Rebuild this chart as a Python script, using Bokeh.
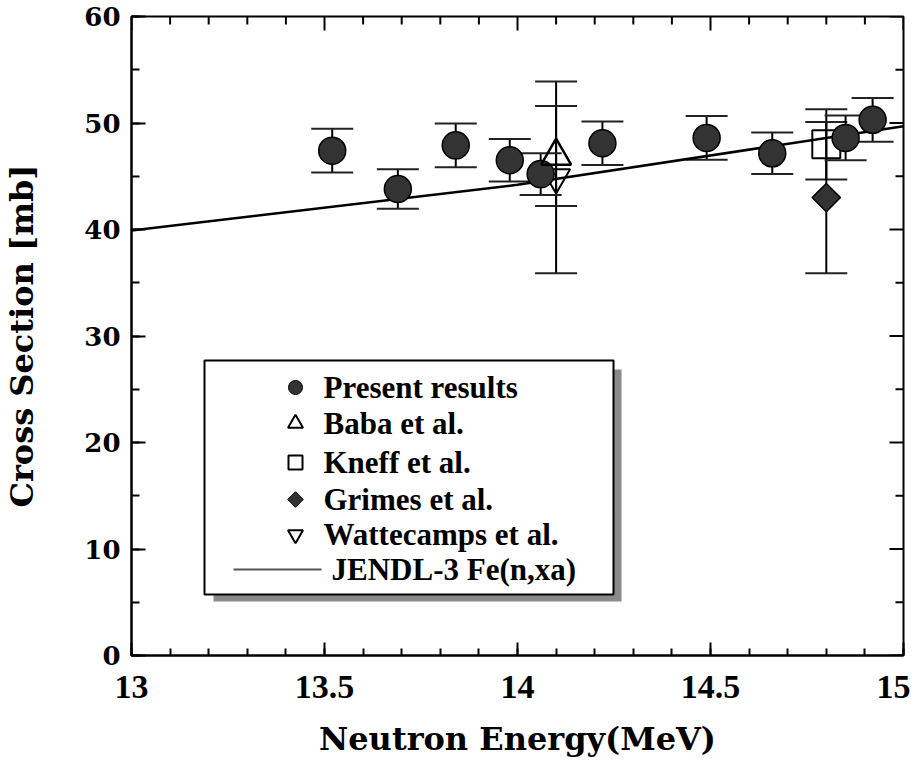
import numpy as np
from bokeh.plotting import figure
from bokeh.models import (Whisker, ColumnDataSource, Range1d,
                          SingleIntervalTicker, TeeHead, NumeralTickFormatter)
from bokeh.core.properties import value
from bokeh.embed import file_html
from bokeh.resources import INLINE

# ---------------- data ----------------
present_e = [13.52, 13.69, 13.84, 13.98, 14.06, 14.22, 14.49, 14.66, 14.85, 14.92]
present_xs = [47.4, 43.8, 47.9, 46.5, 45.2, 48.1, 48.6, 47.15, 48.6, 50.3]
present_err = [2.05, 1.85, 2.05, 2.0, 1.95, 2.05, 2.05, 1.95, 2.1, 2.05]

baba_e = [14.10]
baba_xs = [46.9]
baba_err = [4.7]

kneff_e = [14.80]
kneff_xs = [48.0]
kneff_err = [3.3]

grimes_e = [14.80]
grimes_xs = [43.0]
grimes_err = [7.1]

watt_e = [14.10]
watt_xs = [44.9]
watt_err = [9.0]

jendl_e = [13.0, 14.0, 15.0]
jendl_xs = [39.9, 44.2, 49.7]

x_major = [13.0, 13.5, 14.0, 14.5, 15.0]
y_major = [0, 10, 20, 30, 40, 50, 60]

legend_labels = ["Present results", "Baba et al.", "Kneff et al.",
                 "Grimes et al.", "Wattecamps et al.", "JENDL-3 Fe(n,xa)"]

# ---------------- layout constants (page pixels) ----------------
X0, X1 = 13.0, 15.0
Y0, Y1 = 0.0, 60.0
FL, FR, FT, FB = 133, 905, 17, 656
SX = (X1 - X0) / (FR - FL)   # data units per px
SY = (Y1 - Y0) / (FB - FT)


def dx(px):
    return X0 + (px - FL) * SX


def dy(py):
    return Y0 + (FB - py) * SY


p = figure(frame_width=FR - FL, frame_height=FB - FT,
           x_range=Range1d(X0, X1), y_range=Range1d(Y0, Y1),
           output_backend="svg", toolbar_location=None,
           min_border_left=FL - 8, min_border_right=7,
           min_border_top=FT - 1, min_border_bottom=101)
p.grid.visible = False
p.outline_line_color = "black"
p.outline_line_width = 2
p.background_fill_color = "white"
p.border_fill_color = "white"

xt = SingleIntervalTicker(interval=0.5, num_minor_ticks=5)
yt = SingleIntervalTicker(interval=10, num_minor_ticks=2)


def style_axis(ax, maj, mnr):
    ax.axis_line_width = 2
    ax.axis_line_color = "black"
    ax.major_tick_in = maj
    ax.major_tick_out = 0
    ax.minor_tick_in = mnr
    ax.minor_tick_out = 0
    ax.major_tick_line_width = 2
    ax.minor_tick_line_width = 2
    ax.major_tick_line_color = "black"
    ax.minor_tick_line_color = "black"


xa = p.xaxis[0]
xa.ticker = xt
xa.formatter = NumeralTickFormatter(format="0.[0]")
style_axis(xa, 13, 7)
xa.major_label_text_font = "Liberation Serif"
xa.major_label_text_font_style = "bold"
xa.major_label_text_font_size = "34px"
xa.major_label_text_color = "black"
xa.major_label_standoff = 20
xa.axis_label = "Neutron Energy(MeV)"
xa.axis_label_text_font = "DejaVu Serif"
xa.axis_label_text_font_style = "bold"
xa.axis_label_text_font_size = "32px"
xa.axis_label_text_color = "black"
xa.axis_label_standoff = 19

ya = p.yaxis[0]
ya.ticker = yt
style_axis(ya, 14, 8)
ya.major_label_text_font = "DejaVu Serif"
ya.major_label_text_font_style = "bold"
ya.major_label_text_font_size = "26px"
ya.major_label_text_color = "black"
ya.major_label_standoff = 11
ya.axis_label = "Cross Section [mb]"
ya.axis_label_text_font = "DejaVu Serif"
ya.axis_label_text_font_style = "bold"
ya.axis_label_text_font_size = "32px"
ya.axis_label_text_color = "black"
ya.axis_label_standoff = 40

# ---------- inward ticks on the top and right edges ----------
x_minor = [round(X0 + 0.1 * i, 1) for i in range(1, 20)]
x_minor = [v for v in x_minor if v not in x_major]
y_minor = [v + 5 for v in y_major[:-1]]
p.segment(x0=x_major, y0=[Y1] * len(x_major), x1=x_major,
          y1=[Y1 - 14 * SY] * len(x_major), line_color="black", line_width=2)
p.segment(x0=x_minor, y0=[Y1] * len(x_minor), x1=x_minor,
          y1=[Y1 - 8 * SY] * len(x_minor), line_color="black", line_width=2)
p.segment(x0=[X1] * len(y_major), y0=y_major, x1=[X1 - 14 * SX] * len(y_major),
          y1=y_major, line_color="black", line_width=2)
p.segment(x0=[X1] * len(y_minor), y0=y_minor, x1=[X1 - 8 * SX] * len(y_minor),
          y1=y_minor, line_color="black", line_width=2)

# ---------------- JENDL line ----------------
p.line(jendl_e, jendl_xs, line_color="black", line_width=2.5)


# ---------------- error bars ----------------
def errbars(e, v, err):
    src = ColumnDataSource(dict(x=e, upper=[a + b for a, b in zip(v, err)],
                                lower=[a - b for a, b in zip(v, err)]))
    w = Whisker(source=src, base="x", upper="upper", lower="lower",
                line_width=2, line_color="black",
                upper_head=TeeHead(size=42, line_width=2, line_color="#222222"),
                lower_head=TeeHead(size=42, line_width=2, line_color="#222222"))
    p.add_layout(w)


errbars(watt_e, watt_xs, watt_err)
errbars(baba_e, baba_xs, baba_err)
errbars(kneff_e, kneff_xs, kneff_err)
errbars(grimes_e, grimes_xs, grimes_err)
errbars(present_e, present_xs, present_err)

DARK = "#333333"
# markers
p.scatter(watt_e, watt_xs, marker="inverted_triangle", size=28,
          fill_alpha=0, line_color="black", line_width=2)
p.scatter(kneff_e, kneff_xs, marker="square", size=28,
          fill_alpha=0, line_color="black", line_width=2)
p.scatter(grimes_e, grimes_xs, marker="square", angle=np.pi / 4, size=20,
          fill_color=DARK, line_color="black", line_width=1.5)
p.scatter(present_e, present_xs, marker="circle", size=27,
          fill_color=DARK, line_color="black", line_width=1.5)
p.scatter(baba_e, baba_xs, marker="triangle", size=30,
          fill_alpha=0, line_color="black", line_width=2.5)

# ---------------- legend (drawn by hand) ----------------
p.quad(left=[dx(215)], right=[dx(623)], top=[dy(370)], bottom=[dy(602)],
       fill_color="#8a8a8a", line_color=None)
p.quad(left=[dx(206)], right=[dx(615)], top=[dy(361)], bottom=[dy(595)],
       fill_color="white", line_color="black", line_width=2)

rows = [388, 424, 463, 500, 535, 570]
mx = dx(297)
p.scatter([mx], [dy(rows[0])], marker="circle", size=14, fill_color=DARK,
          line_color="black", line_width=1)
p.scatter([mx], [dy(rows[1])], marker="triangle", size=15, fill_alpha=0,
          line_color="black", line_width=2)
p.scatter([mx], [dy(rows[2])], marker="square", size=14, fill_alpha=0,
          line_color="black", line_width=2)
p.scatter([mx], [dy(rows[3])], marker="square", angle=np.pi / 4, size=11,
          fill_color=DARK, line_color="black", line_width=1)
p.scatter([mx], [dy(rows[4])], marker="inverted_triangle", size=15, fill_alpha=0,
          line_color="black", line_width=2)
p.line([dx(235), dx(323)], [dy(rows[5]), dy(rows[5])], line_color="#555555",
       line_width=2)

tx = [dx(325)] * 5 + [dx(333)]
p.text(x=tx, y=[dy(r) for r in rows], text=legend_labels,
       text_font=value("Liberation Serif"), text_font_style="bold",
       text_font_size="31px", text_baseline="middle", text_align="left",
       text_color="black")

open("out.html", "w").write(file_html(p, INLINE))
